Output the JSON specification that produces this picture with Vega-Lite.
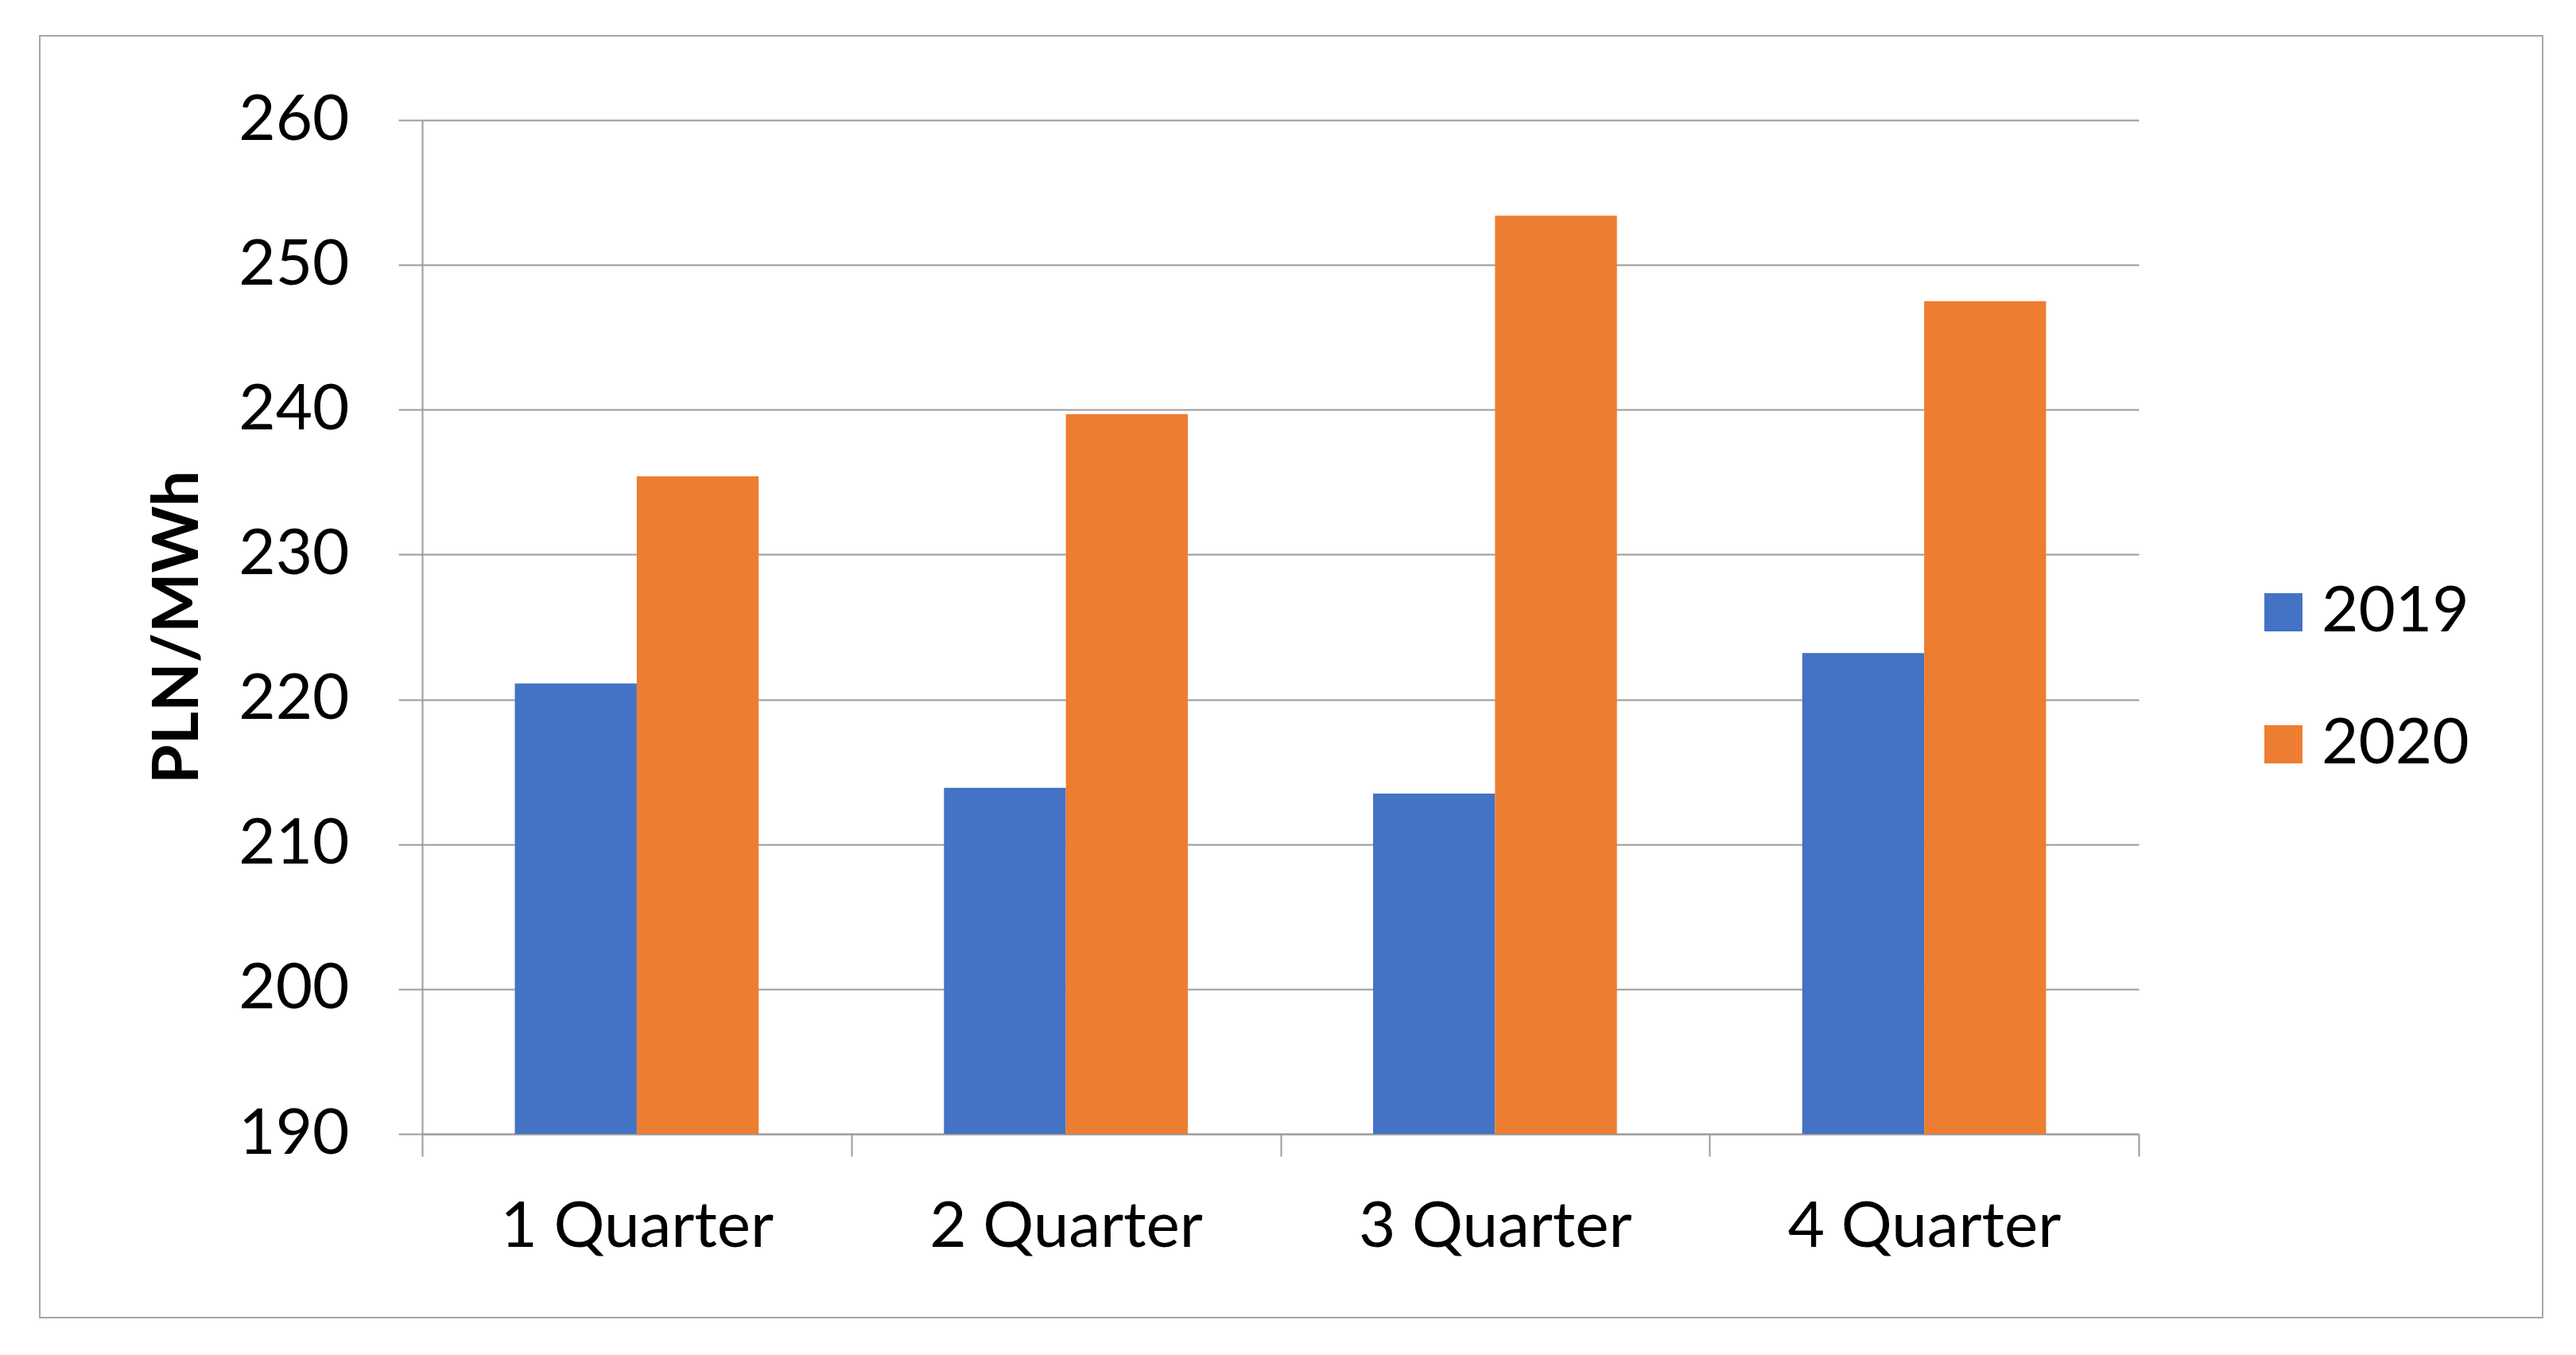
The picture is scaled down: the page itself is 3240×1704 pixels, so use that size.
{
  "$schema": "https://vega.github.io/schema/vega-lite/v6.json",
  "width": 3148,
  "height": 1612,
  "autosize": {"type": "none"},
  "padding": {"left": 50, "top": 45, "right": 42, "bottom": 47},
  "background": "white",
  "data": {
    "values": [
      {"quarter": "1 Quarter", "year": "2019", "price": 221.1},
      {"quarter": "1 Quarter", "year": "2020", "price": 235.4},
      {"quarter": "2 Quarter", "year": "2019", "price": 213.9},
      {"quarter": "2 Quarter", "year": "2020", "price": 239.7},
      {"quarter": "3 Quarter", "year": "2019", "price": 213.5},
      {"quarter": "3 Quarter", "year": "2020", "price": 253.4},
      {"quarter": "4 Quarter", "year": "2019", "price": 223.2},
      {"quarter": "4 Quarter", "year": "2020", "price": 247.5}
    ]
  },
  "mark": {"type": "bar"},
  "encoding": {
    "x": {
      "field": "quarter",
      "type": "nominal",
      "sort": ["1 Quarter", "2 Quarter", "3 Quarter", "4 Quarter"],
      "scale": {"range": [481, 2640], "paddingInner": 0, "paddingOuter": 0},
      "axis": {
        "title": null,
        "offset": -231,
        "labelAngle": 0,
        "labelFont": "Lato",
        "labelFontSize": 80,
        "labelColor": "#000000",
        "labelPadding": 50,
        "labelLimit": 0,
        "tickBand": "extent",
        "tickSize": 28,
        "tickColor": "#9a9a9a",
        "tickWidth": 2,
        "domainColor": "#9a9a9a",
        "domainWidth": 2,
        "grid": false
      }
    },
    "xOffset": {
      "field": "year",
      "type": "nominal",
      "scale": {"paddingOuter": 0.76, "paddingInner": 0}
    },
    "y": {
      "field": "price",
      "type": "quantitative",
      "scale": {"domain": [190, 260], "range": [1381, 106], "zero": false, "nice": false},
      "axis": {
        "title": "PLN/MWh",
        "titleFont": "Lato",
        "titleFontSize": 80,
        "titleFontWeight": "bold",
        "titleColor": "#000000",
        "titlePadding": 66,
        "offset": -481,
        "values": [190, 200, 210, 220, 230, 240, 250, 260],
        "labelFont": "Lato",
        "labelFontSize": 80,
        "labelColor": "#000000",
        "labelPadding": 62,
        "labelLimit": 0,
        "tickSize": 30,
        "tickColor": "#9a9a9a",
        "tickWidth": 2,
        "domainColor": "#9a9a9a",
        "domainWidth": 2,
        "grid": true,
        "gridColor": "#9a9a9a",
        "gridWidth": 2
      }
    },
    "y2": {"datum": 190},
    "color": {
      "field": "year",
      "type": "nominal",
      "scale": {"domain": ["2019", "2020"], "range": ["#4472C4", "#ED7D31"]},
      "legend": {
        "title": null,
        "orient": "none",
        "legendX": 2782,
        "legendY": 685,
        "padding": 0,
        "symbolType": "square",
        "symbolSize": 2300,
        "symbolStrokeWidth": 0,
        "symbolOpacity": 1,
        "labelFont": "Lato",
        "labelFontSize": 80,
        "labelColor": "#000000",
        "labelOffset": 8,
        "labelLimit": 0,
        "rowPadding": 86
      }
    }
  },
  "config": {
    "view": {"stroke": "#a6a6a6", "strokeWidth": 2},
    "axis": {"labelOverlap": false}
  }
}
